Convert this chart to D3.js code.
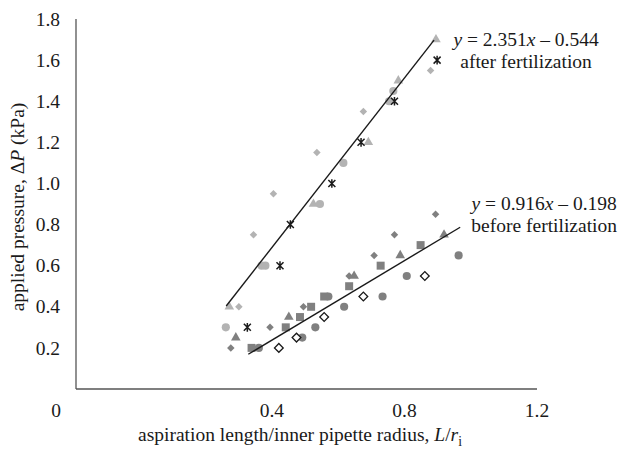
<!DOCTYPE html>
<html>
<head>
<meta charset="utf-8">
<script src="https://cdn.jsdelivr.net/npm/d3@7"></script>
<style>
  body { margin: 0; background: #fff; }
  svg text { font-family: "Liberation Serif", "Times New Roman", serif; fill: #1a1a1a; }
</style>
</head>
<body>
<svg id="chart" width="622" height="450"></svg>
<script>
// ---- data: [L/ri, deltaP (kPa)] ----
// after fertilization (light grey + black stars)
const afterDiamonds  = [[0.424, 0.40], [0.462, 0.75], [0.514, 0.95], [0.627, 1.15], [0.748, 1.35], [0.923, 1.55]];
const afterTriangles = [[0.399, 0.40], [0.618, 0.90], [0.761, 1.20], [0.839, 1.50], [0.937, 1.70]];
const afterCircles   = [[0.390, 0.30], [0.483, 0.60], [0.493, 0.60], [0.635, 0.90], [0.696, 1.10], [0.815, 1.40], [0.826, 1.45]];
const afterStars     = [[0.446, 0.30], [0.531, 0.60], [0.558, 0.80], [0.666, 1.00], [0.742, 1.20], [0.829, 1.40], [0.940, 1.60]];

// before fertilization (dark grey + open diamonds)
const beforeDiamonds  = [[0.403, 0.20], [0.505, 0.30], [0.592, 0.40], [0.711, 0.55], [0.776, 0.65], [0.829, 0.75], [0.936, 0.85]];
const beforeSquares   = [[0.457, 0.20], [0.546, 0.30], [0.583, 0.35], [0.612, 0.40], [0.646, 0.45], [0.711, 0.50], [0.793, 0.60], [0.897, 0.70]];
const beforeTriangles = [[0.416, 0.25], [0.554, 0.35], [0.724, 0.55], [0.844, 0.65], [0.958, 0.75]];
const beforeCircles   = [[0.476, 0.20], [0.589, 0.25], [0.623, 0.30], [0.657, 0.45], [0.698, 0.40], [0.798, 0.45], [0.861, 0.55], [0.996, 0.65]];
const beforeOpen      = [[0.528, 0.20], [0.574, 0.25], [0.646, 0.35], [0.748, 0.45], [0.908, 0.55]];

// fitted lines (end points as drawn)
const afterFit  = [[0.391, 0.404], [0.932, 1.697]];
const beforeFit = [[0.4485, 0.169], [1.0, 0.787]];

const yTicks = [0.2, 0.4, 0.6, 0.8, 1.0, 1.2, 1.4, 1.6, 1.8];
const xTickLabels = ["0.4", "0.8", "1.2"];
const afterEq  = ["2.351", "0.544"];
const beforeEq = ["0.916", "0.198"];

// ---- setup ----
const svg = d3.select("#chart");
const FONT = 19.5;
const LIGHT = "#b3b3b3", DARK = "#808080", INK = "#1a1a1a";

const x = d3.scaleLinear().domain([0, 1.2]).range([76, 537]);
const y = d3.scaleLinear().domain([0, 1.8]).range([389, 19]);
// tick labels in the figure sit to the right of their data positions
const xLabel = d3.scaleLinear().domain([0.4, 1.2]).range([x(0.51), x(1.2)]);

// axes lines
svg.append("line")
    .attr("x1", x(0)).attr("x2", x(0)).attr("y1", y(0)).attr("y2", y(1.8))
    .attr("stroke", "#555").attr("stroke-width", 1.3);
svg.append("line")
    .attr("x1", x(0)).attr("x2", x(1.2)).attr("y1", y(0)).attr("y2", y(0))
    .attr("stroke", "#555").attr("stroke-width", 1.3);

// y tick labels
svg.selectAll(".ytick")
    .data(yTicks)
    .enter().append("text")
    .attr("class", "ytick")
    .attr("x", x(0) - 16)
    .attr("y", d => y(d))
    .attr("dy", "0.34em")
    .attr("text-anchor", "end")
    .style("font-size", FONT + "px")
    .text(d3.format(".1f"));

// x tick labels (origin "0" sits at the corner)
svg.append("text")
    .attr("x", x(0) - 20).attr("y", 417)
    .attr("text-anchor", "middle")
    .style("font-size", FONT + "px")
    .text("0");
svg.selectAll(".xtick")
    .data(xTickLabels)
    .enter().append("text")
    .attr("class", "xtick")
    .attr("x", d => xLabel(+d))
    .attr("y", 417)
    .attr("text-anchor", "middle")
    .style("font-size", FONT + "px")
    .text(d => d);

// axis titles
const xt = svg.append("text")
    .attr("x", 300).attr("y", 441)
    .attr("text-anchor", "middle")
    .style("font-size", FONT + "px");
xt.append("tspan").text("aspiration length/inner pipette radius, ");
xt.append("tspan").style("font-style", "italic").text("L");
xt.append("tspan").text("/");
xt.append("tspan").style("font-style", "italic").text("r");
xt.append("tspan").attr("dy", 5).style("font-size", (FONT * 0.7) + "px").text("i");

const yt = svg.append("text")
    .attr("transform", "translate(24,207) rotate(-90)")
    .attr("text-anchor", "middle")
    .style("font-size", FONT + "px");
yt.append("tspan").text("applied pressure, Δ");
yt.append("tspan").style("font-style", "italic").text("P");
yt.append("tspan").text(" (kPa)");

// ---- markers ----
const g = svg.append("g");

function drawSymbol(data, type, size, fill, stroke, rotate) {
    g.selectAll(null)
        .data(data)
        .enter().append("path")
        .attr("d", d3.symbol().type(type).size(size))
        .attr("transform", d => `translate(${x(d[0])},${y(d[1])})` + (rotate ? ` rotate(${rotate})` : ""))
        .attr("fill", fill)
        .attr("stroke", stroke || "none")
        .attr("stroke-width", stroke ? 1.3 : 0);
}

// star marker: x with a vertical bar through it
const starPath = "M-3.5,-3.5L3.5,3.5M-3.5,3.5L3.5,-3.5M0,-4.3L0,4.3";

// fitted lines
const line = d3.line().x(d => x(d[0])).y(d => y(d[1]));
[afterFit, beforeFit].forEach(f => {
    svg.append("path")
        .attr("d", line(f))
        .attr("fill", "none")
        .attr("stroke", INK)
        .attr("stroke-width", 1.4);
});

drawSymbol(afterDiamonds, d3.symbolSquare, 28, LIGHT, null, 45);
drawSymbol(afterTriangles, d3.symbolTriangle, 40, LIGHT);
drawSymbol(afterCircles, d3.symbolCircle, 52, LIGHT);

drawSymbol(beforeDiamonds, d3.symbolSquare, 28, DARK, null, 45);
drawSymbol(beforeSquares, d3.symbolSquare, 64, DARK);
drawSymbol(beforeTriangles, d3.symbolTriangle, 40, DARK);
drawSymbol(beforeCircles, d3.symbolCircle, 52, DARK);
drawSymbol(beforeOpen, d3.symbolSquare, 38, "#fff", INK, 45);

g.selectAll(null)
    .data(afterStars)
    .enter().append("path")
    .attr("d", starPath)
    .attr("transform", d => `translate(${x(d[0])},${y(d[1])})`)
    .attr("fill", "none")
    .attr("stroke", INK)
    .attr("stroke-width", 1.5);

// ---- equation labels ----
function equation(coef, cx, by, caption) {
    const t = svg.append("text")
        .attr("x", cx).attr("y", by)
        .attr("text-anchor", "middle")
        .style("font-size", FONT + "px");
    t.append("tspan").style("font-style", "italic").text("y");
    t.append("tspan").text(" = " + coef[0]);
    t.append("tspan").style("font-style", "italic").text("x");
    t.append("tspan").text(" – " + coef[1]);
    svg.append("text")
        .attr("x", cx).attr("y", by + 22)
        .attr("text-anchor", "middle")
        .style("font-size", FONT + "px")
        .text(caption);
}
equation(afterEq, x(afterFit[1][0]) + 92, y(afterFit[1][1]) + 6, "after fertilization");
equation(beforeEq, x(beforeFit[1][0]) + 84, y(beforeFit[1][1]) - 17, "before fertilization");
</script>
</body>
</html>
